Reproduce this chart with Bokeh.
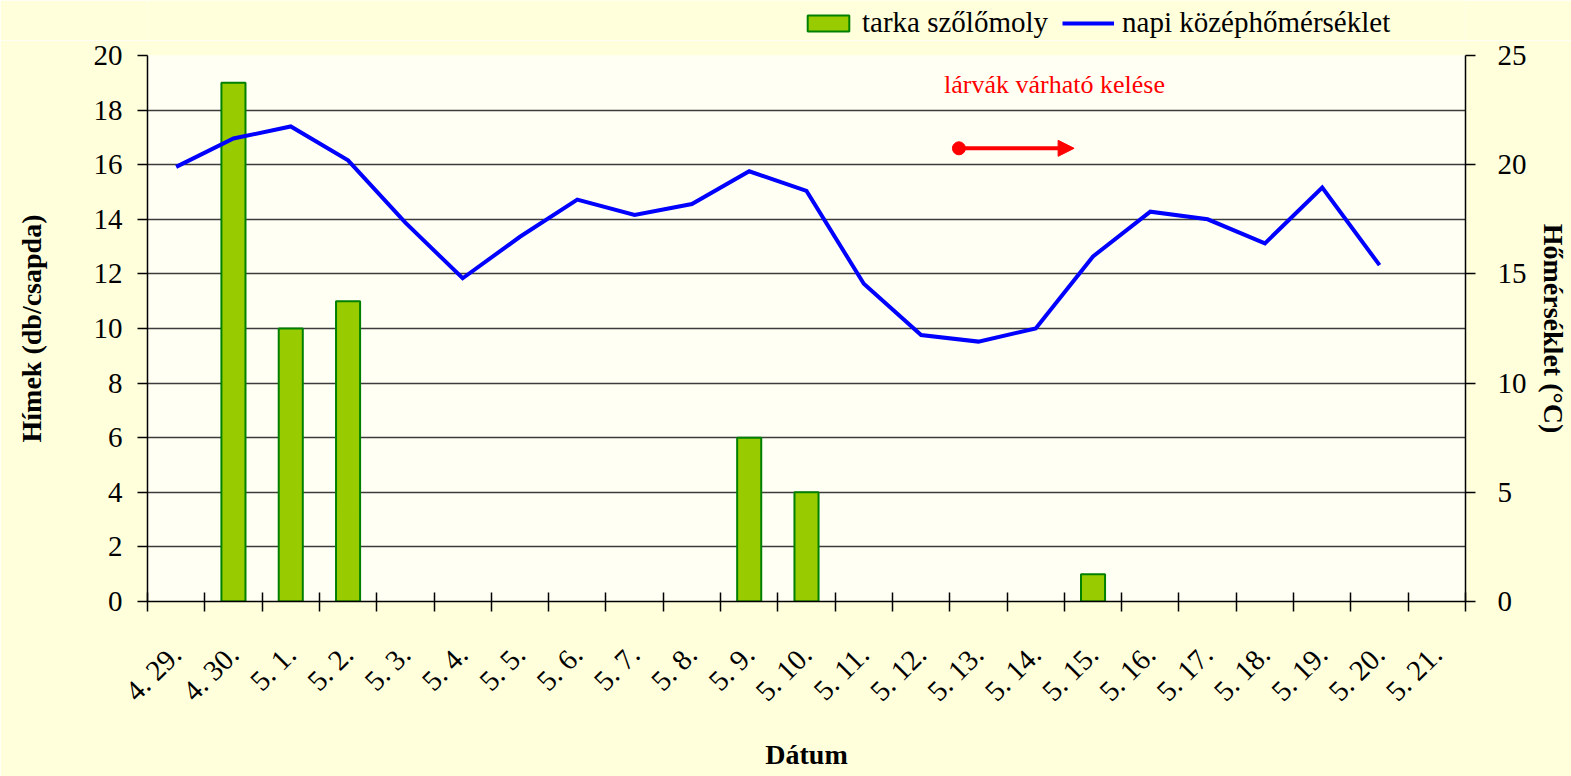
import math
from bokeh.plotting import figure
from bokeh.layouts import column
from bokeh.models import (Range1d, LinearAxis, FixedTicker, Legend, LegendItem,
                          Arrow, NormalHead, Label, ColumnDataSource)
from bokeh.embed import file_html
from bokeh.resources import INLINE

# ---- data ----
dates = ["4. 29.", "4. 30.", "5. 1.", "5. 2.", "5. 3.", "5. 4.", "5. 5.", "5. 6.",
         "5. 7.", "5. 8.", "5. 9.", "5. 10.", "5. 11.", "5. 12.", "5. 13.", "5. 14.",
         "5. 15.", "5. 16.", "5. 17.", "5. 18.", "5. 19.", "5. 20.", "5. 21."]
moths = [0, 19, 10, 11, 0, 0, 0, 0, 0, 0, 6, 4, 0, 0, 0, 0, 1, 0, 0, 0, 0, 0, 0]
temps = [19.9, 21.2, 21.75, 20.2, 17.35, 14.8, 16.7, 18.4, 17.7, 18.2, 19.7, 18.8,
         14.55, 12.2, 11.9, 12.5, 15.8, 17.85, 17.5, 16.4, 18.95, 15.4]
moth_ticks = [0, 2, 4, 6, 8, 10, 12, 14, 16, 18, 20]
temp_ticks = [0, 5, 10, 15, 20, 25]
series_names = ["tarka szőlőmoly", "napi középhőmérséklet"]
note_text = "lárvák várható kelése"
# annotation placement (category units / left-axis units)
note_x, note_y = 13.9, 18.95
arrow_x0, arrow_x1, arrow_y = 14.16, 16.17, 16.6

SERIF = "Liberation Serif"
BAR_FILL, BAR_LINE, LINE_COLOR = "#99CC00", "#008000", "#0000FF"
BORDER_BG = "#FFFFDC"
FRAME_W, FRAME_H = 1318, 546
B_LEFT, B_RIGHT = 147, 106

n = len(dates)
centers = [i + 0.5 for i in range(n)]

bar_src = ColumnDataSource(dict(
    x=[c for c, m in zip(centers, moths) if m > 0],
    top=[m for m in moths if m > 0]))
line_src = ColumnDataSource(dict(x=centers[:len(temps)], t=temps))

# ---------------- legend strip (above the chart) ----------------
LEG_H = 40
lp = figure(frame_width=FRAME_W, frame_height=LEG_H,
            x_range=Range1d(1000, 1000 + n), y_range=Range1d(1000, 1040),
            x_axis_type=None, y_axis_type=None, output_backend="svg",
            toolbar_location=None, min_border_left=B_LEFT, min_border_right=B_RIGHT,
            min_border_top=0, min_border_bottom=0,
            background_fill_color=BORDER_BG, border_fill_color=BORDER_BG,
            outline_line_color=None)
lp.xgrid.visible = False
lp.ygrid.visible = False
# hidden copies of the series, used only to draw the legend swatches
leg_bar = lp.vbar(x="x", top="top", bottom=0, width=0.42, source=bar_src,
                  fill_color=BAR_FILL, line_color=BAR_LINE, line_width=2)
leg_line = lp.line(x="x", y="t", source=line_src, line_color=LINE_COLOR, line_width=4)
leg_bar.visible = False
leg_line.visible = False
legend = Legend(items=[LegendItem(label=series_names[0], renderers=[leg_bar]),
                       LegendItem(label=series_names[1], renderers=[leg_line])],
                orientation="horizontal", location=(655, 1), click_policy="none",
                background_fill_alpha=0, border_line_color=None,
                inactive_fill_alpha=0,
                glyph_width=52, glyph_height=20, label_standoff=8, spacing=14,
                padding=2, margin=0,
                label_text_font=SERIF, label_text_font_size="29px",
                label_text_color="black")
lp.add_layout(legend, "center")

# ---------------- main chart ----------------
p = figure(frame_width=FRAME_W, frame_height=FRAME_H,
           x_range=Range1d(0, n), y_range=Range1d(moth_ticks[0], moth_ticks[-1]),
           output_backend="svg", toolbar_location=None,
           min_border_left=B_LEFT, min_border_right=B_RIGHT, min_border_top=15,
           min_border_bottom=175,
           background_fill_color="#FFFFF3", border_fill_color=BORDER_BG,
           outline_line_color=None)
p.extra_y_ranges = {"temp": Range1d(temp_ticks[0], temp_ticks[-1])}

# grid
p.xgrid.grid_line_color = None
p.ygrid.ticker = FixedTicker(ticks=moth_ticks)
p.ygrid.grid_line_color = "#3c3c3c"
p.ygrid.grid_line_width = 1.6

# bars
p.vbar(x="x", top="top", bottom=0, width=0.42, source=bar_src,
       fill_color=BAR_FILL, line_color=BAR_LINE, line_width=2)

# temperature line
p.line(x="x", y="t", source=line_src, y_range_name="temp",
       line_color=LINE_COLOR, line_width=4, line_join="miter")

# axes
xa = p.xaxis[0]
xa.ticker = FixedTicker(ticks=centers, minor_ticks=list(range(n + 1)))
xa.major_label_overrides = {c: d for c, d in zip(centers, dates)}
xa.major_label_orientation = math.pi / 4
xa.major_tick_in = 0
xa.major_tick_out = 0
xa.minor_tick_in = 9
xa.minor_tick_out = 10
xa.minor_tick_line_color = "black"
xa.minor_tick_line_width = 1.5
xa.axis_line_color = "black"
xa.axis_line_width = 1.5
xa.major_label_standoff = 38
xa.major_label_text_font = SERIF
xa.major_label_text_font_size = "29px"
xa.major_label_text_color = "black"
xa.axis_label = "Dátum"
xa.axis_label_text_font = SERIF
xa.axis_label_text_font_style = "bold"
xa.axis_label_text_font_size = "28px"
xa.axis_label_text_color = "black"
xa.axis_label_standoff = 18

ya = p.yaxis[0]
ya.ticker = FixedTicker(ticks=moth_ticks)
ya.major_tick_in = 0
ya.major_tick_out = 10
ya.minor_tick_out = 0
ya.minor_tick_in = 0
ya.major_tick_line_color = "black"
ya.major_tick_line_width = 1.5
ya.axis_line_color = "black"
ya.axis_line_width = 1.5
ya.major_label_standoff = 15
ya.major_label_text_font = SERIF
ya.major_label_text_font_size = "29px"
ya.major_label_text_color = "black"
ya.axis_label = "Hímek (db/csapda)"
ya.axis_label_text_font = SERIF
ya.axis_label_text_font_style = "bold"
ya.axis_label_text_font_size = "28px"
ya.axis_label_text_color = "black"
ya.axis_label_standoff = 44

ra = LinearAxis(y_range_name="temp", ticker=FixedTicker(ticks=temp_ticks))
ra.major_tick_in = 0
ra.major_tick_out = 10
ra.minor_tick_out = 0
ra.minor_tick_in = 0
ra.major_tick_line_color = "black"
ra.major_tick_line_width = 1.5
ra.axis_line_color = "black"
ra.axis_line_width = 1.5
ra.major_label_standoff = 22
ra.major_label_text_font = SERIF
ra.major_label_text_font_size = "29px"
ra.major_label_text_color = "black"
ra.axis_label = "Hőmérséklet (°C)"
ra.axis_label_text_font = SERIF
ra.axis_label_text_font_style = "bold"
ra.axis_label_text_font_size = "28px"
ra.axis_label_text_color = "black"
ra.axis_label_standoff = 8
p.add_layout(ra, "right")

# annotation
p.add_layout(Label(x=note_x, y=note_y, text=note_text, text_align="left",
                   text_baseline="middle", text_font=SERIF, text_font_size="26px",
                   text_color="#FF0000"))
p.add_layout(Arrow(x_start=arrow_x0, y_start=arrow_y, x_end=arrow_x1, y_end=arrow_y,
                   line_color="#FF0000", line_width=4,
                   end=NormalHead(size=16, fill_color="#FF0000", line_color="#FF0000")))
p.scatter(x=[arrow_x0], y=[arrow_y], size=13, marker="circle",
          fill_color="#FF0000", line_color="#FF0000")

layout = column(lp, p, spacing=0)
open("out.html", "w").write(file_html(layout, INLINE))
